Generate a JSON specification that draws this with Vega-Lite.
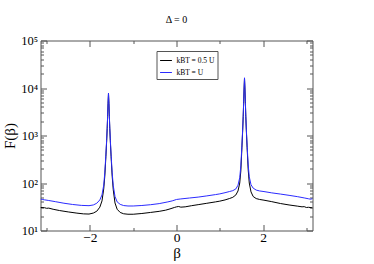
{
  "$schema": "https://vega.github.io/schema/vega-lite/v6.json",
  "autosize": {"type": "none"},
  "width": 272,
  "height": 190,
  "padding": {"left": 40.5, "top": 40.5, "right": 61.5, "bottom": 33.5},
  "background": "white",
  "config": {
    "view": {"stroke": "#555", "strokeWidth": 1},
    "font": "Liberation Serif"
  },
  "title": {"text": "Δ = 0", "fontSize": 10, "font": "Liberation Serif", "fontWeight": "normal", "offset": 10, "color": "#000"},
  "data": {"values": [
    {"b": -3.1416, "F": 30.5, "s": "kBT = 0.5 U"},
    {"b": -3.05, "F": 30.2, "s": "kBT = 0.5 U"},
    {"b": -3.0, "F": 29.3, "s": "kBT = 0.5 U"},
    {"b": -2.95, "F": 29.6, "s": "kBT = 0.5 U"},
    {"b": -2.85, "F": 28, "s": "kBT = 0.5 U"},
    {"b": -2.7, "F": 26.3, "s": "kBT = 0.5 U"},
    {"b": -2.5, "F": 24.6, "s": "kBT = 0.5 U"},
    {"b": -2.3, "F": 23.2, "s": "kBT = 0.5 U"},
    {"b": -2.15, "F": 22.4, "s": "kBT = 0.5 U"},
    {"b": -2.021, "F": 22.2, "s": "kBT = 0.5 U"},
    {"b": -1.921, "F": 23.3, "s": "kBT = 0.5 U"},
    {"b": -1.841, "F": 25.5, "s": "kBT = 0.5 U"},
    {"b": -1.771, "F": 31, "s": "kBT = 0.5 U"},
    {"b": -1.721, "F": 42, "s": "kBT = 0.5 U"},
    {"b": -1.681, "F": 75, "s": "kBT = 0.5 U"},
    {"b": -1.656, "F": 140, "s": "kBT = 0.5 U"},
    {"b": -1.631, "F": 360, "s": "kBT = 0.5 U"},
    {"b": -1.613, "F": 780, "s": "kBT = 0.5 U"},
    {"b": -1.601, "F": 1400, "s": "kBT = 0.5 U"},
    {"b": -1.591, "F": 2500, "s": "kBT = 0.5 U"},
    {"b": -1.581, "F": 4700, "s": "kBT = 0.5 U"},
    {"b": -1.571, "F": 7700, "s": "kBT = 0.5 U"},
    {"b": -1.561, "F": 4700, "s": "kBT = 0.5 U"},
    {"b": -1.551, "F": 2500, "s": "kBT = 0.5 U"},
    {"b": -1.541, "F": 1400, "s": "kBT = 0.5 U"},
    {"b": -1.529, "F": 780, "s": "kBT = 0.5 U"},
    {"b": -1.511, "F": 360, "s": "kBT = 0.5 U"},
    {"b": -1.486, "F": 140, "s": "kBT = 0.5 U"},
    {"b": -1.461, "F": 72, "s": "kBT = 0.5 U"},
    {"b": -1.421, "F": 38, "s": "kBT = 0.5 U"},
    {"b": -1.371, "F": 28, "s": "kBT = 0.5 U"},
    {"b": -1.301, "F": 24, "s": "kBT = 0.5 U"},
    {"b": -1.221, "F": 22.5, "s": "kBT = 0.5 U"},
    {"b": -1.121, "F": 22, "s": "kBT = 0.5 U"},
    {"b": -1.0, "F": 22, "s": "kBT = 0.5 U"},
    {"b": -0.8, "F": 22.8, "s": "kBT = 0.5 U"},
    {"b": -0.6, "F": 24, "s": "kBT = 0.5 U"},
    {"b": -0.4, "F": 25.3, "s": "kBT = 0.5 U"},
    {"b": -0.25, "F": 26.8, "s": "kBT = 0.5 U"},
    {"b": -0.15, "F": 28.5, "s": "kBT = 0.5 U"},
    {"b": -0.05, "F": 30.5, "s": "kBT = 0.5 U"},
    {"b": 0.0, "F": 31.5, "s": "kBT = 0.5 U"},
    {"b": 0.05, "F": 32, "s": "kBT = 0.5 U"},
    {"b": 0.1, "F": 31, "s": "kBT = 0.5 U"},
    {"b": 0.2, "F": 31.5, "s": "kBT = 0.5 U"},
    {"b": 0.35, "F": 33.3, "s": "kBT = 0.5 U"},
    {"b": 0.5, "F": 35, "s": "kBT = 0.5 U"},
    {"b": 0.7, "F": 37.4, "s": "kBT = 0.5 U"},
    {"b": 0.9, "F": 40, "s": "kBT = 0.5 U"},
    {"b": 1.0, "F": 41.5, "s": "kBT = 0.5 U"},
    {"b": 1.121, "F": 44, "s": "kBT = 0.5 U"},
    {"b": 1.221, "F": 47, "s": "kBT = 0.5 U"},
    {"b": 1.301, "F": 50, "s": "kBT = 0.5 U"},
    {"b": 1.371, "F": 56, "s": "kBT = 0.5 U"},
    {"b": 1.421, "F": 68, "s": "kBT = 0.5 U"},
    {"b": 1.461, "F": 100, "s": "kBT = 0.5 U"},
    {"b": 1.486, "F": 180, "s": "kBT = 0.5 U"},
    {"b": 1.511, "F": 550, "s": "kBT = 0.5 U"},
    {"b": 1.529, "F": 1300, "s": "kBT = 0.5 U"},
    {"b": 1.541, "F": 2500, "s": "kBT = 0.5 U"},
    {"b": 1.551, "F": 4800, "s": "kBT = 0.5 U"},
    {"b": 1.561, "F": 9500, "s": "kBT = 0.5 U"},
    {"b": 1.571, "F": 16000, "s": "kBT = 0.5 U"},
    {"b": 1.581, "F": 9500, "s": "kBT = 0.5 U"},
    {"b": 1.591, "F": 4800, "s": "kBT = 0.5 U"},
    {"b": 1.601, "F": 2500, "s": "kBT = 0.5 U"},
    {"b": 1.613, "F": 1300, "s": "kBT = 0.5 U"},
    {"b": 1.631, "F": 560, "s": "kBT = 0.5 U"},
    {"b": 1.656, "F": 190, "s": "kBT = 0.5 U"},
    {"b": 1.681, "F": 100, "s": "kBT = 0.5 U"},
    {"b": 1.721, "F": 65, "s": "kBT = 0.5 U"},
    {"b": 1.771, "F": 52, "s": "kBT = 0.5 U"},
    {"b": 1.841, "F": 47, "s": "kBT = 0.5 U"},
    {"b": 1.921, "F": 45, "s": "kBT = 0.5 U"},
    {"b": 2.021, "F": 43.5, "s": "kBT = 0.5 U"},
    {"b": 2.2, "F": 40.5, "s": "kBT = 0.5 U"},
    {"b": 2.4, "F": 37, "s": "kBT = 0.5 U"},
    {"b": 2.6, "F": 34.5, "s": "kBT = 0.5 U"},
    {"b": 2.8, "F": 32.5, "s": "kBT = 0.5 U"},
    {"b": 2.9, "F": 31.5, "s": "kBT = 0.5 U"},
    {"b": 2.95, "F": 31.8, "s": "kBT = 0.5 U"},
    {"b": 3.0, "F": 30.5, "s": "kBT = 0.5 U"},
    {"b": 3.05, "F": 30.8, "s": "kBT = 0.5 U"},
    {"b": 3.1416, "F": 30, "s": "kBT = 0.5 U"},
    {"b": -3.1416, "F": 46, "s": "kBT = U"},
    {"b": -3.1, "F": 45, "s": "kBT = U"},
    {"b": -3.05, "F": 44.2, "s": "kBT = U"},
    {"b": -2.95, "F": 42.8, "s": "kBT = U"},
    {"b": -2.8, "F": 40.5, "s": "kBT = U"},
    {"b": -2.6, "F": 37.5, "s": "kBT = U"},
    {"b": -2.4, "F": 35.3, "s": "kBT = U"},
    {"b": -2.2, "F": 33.8, "s": "kBT = U"},
    {"b": -2.021, "F": 33.3, "s": "kBT = U"},
    {"b": -1.921, "F": 34.5, "s": "kBT = U"},
    {"b": -1.841, "F": 37.5, "s": "kBT = U"},
    {"b": -1.771, "F": 44, "s": "kBT = U"},
    {"b": -1.721, "F": 56, "s": "kBT = U"},
    {"b": -1.681, "F": 90, "s": "kBT = U"},
    {"b": -1.656, "F": 165, "s": "kBT = U"},
    {"b": -1.631, "F": 400, "s": "kBT = U"},
    {"b": -1.613, "F": 830, "s": "kBT = U"},
    {"b": -1.601, "F": 1450, "s": "kBT = U"},
    {"b": -1.591, "F": 2600, "s": "kBT = U"},
    {"b": -1.581, "F": 4800, "s": "kBT = U"},
    {"b": -1.571, "F": 7800, "s": "kBT = U"},
    {"b": -1.561, "F": 4800, "s": "kBT = U"},
    {"b": -1.551, "F": 2600, "s": "kBT = U"},
    {"b": -1.541, "F": 1450, "s": "kBT = U"},
    {"b": -1.529, "F": 830, "s": "kBT = U"},
    {"b": -1.511, "F": 400, "s": "kBT = U"},
    {"b": -1.486, "F": 165, "s": "kBT = U"},
    {"b": -1.461, "F": 88, "s": "kBT = U"},
    {"b": -1.421, "F": 52, "s": "kBT = U"},
    {"b": -1.371, "F": 40, "s": "kBT = U"},
    {"b": -1.301, "F": 35.5, "s": "kBT = U"},
    {"b": -1.221, "F": 33.5, "s": "kBT = U"},
    {"b": -1.121, "F": 32.8, "s": "kBT = U"},
    {"b": -1.0, "F": 32.8, "s": "kBT = U"},
    {"b": -0.8, "F": 33.6, "s": "kBT = U"},
    {"b": -0.6, "F": 34.9, "s": "kBT = U"},
    {"b": -0.4, "F": 36.8, "s": "kBT = U"},
    {"b": -0.2, "F": 40, "s": "kBT = U"},
    {"b": -0.1, "F": 42, "s": "kBT = U"},
    {"b": 0.0, "F": 45, "s": "kBT = U"},
    {"b": 0.1, "F": 46.2, "s": "kBT = U"},
    {"b": 0.3, "F": 48.3, "s": "kBT = U"},
    {"b": 0.5, "F": 50.5, "s": "kBT = U"},
    {"b": 0.7, "F": 53.5, "s": "kBT = U"},
    {"b": 0.9, "F": 57, "s": "kBT = U"},
    {"b": 1.0, "F": 59, "s": "kBT = U"},
    {"b": 1.121, "F": 62.5, "s": "kBT = U"},
    {"b": 1.221, "F": 66, "s": "kBT = U"},
    {"b": 1.301, "F": 69, "s": "kBT = U"},
    {"b": 1.371, "F": 75, "s": "kBT = U"},
    {"b": 1.421, "F": 90, "s": "kBT = U"},
    {"b": 1.461, "F": 130, "s": "kBT = U"},
    {"b": 1.486, "F": 230, "s": "kBT = U"},
    {"b": 1.511, "F": 620, "s": "kBT = U"},
    {"b": 1.529, "F": 1380, "s": "kBT = U"},
    {"b": 1.541, "F": 2600, "s": "kBT = U"},
    {"b": 1.551, "F": 5000, "s": "kBT = U"},
    {"b": 1.561, "F": 9800, "s": "kBT = U"},
    {"b": 1.571, "F": 16400, "s": "kBT = U"},
    {"b": 1.581, "F": 9800, "s": "kBT = U"},
    {"b": 1.591, "F": 5000, "s": "kBT = U"},
    {"b": 1.601, "F": 2600, "s": "kBT = U"},
    {"b": 1.613, "F": 1380, "s": "kBT = U"},
    {"b": 1.631, "F": 620, "s": "kBT = U"},
    {"b": 1.656, "F": 240, "s": "kBT = U"},
    {"b": 1.681, "F": 135, "s": "kBT = U"},
    {"b": 1.721, "F": 92, "s": "kBT = U"},
    {"b": 1.771, "F": 78, "s": "kBT = U"},
    {"b": 1.841, "F": 71, "s": "kBT = U"},
    {"b": 1.921, "F": 68, "s": "kBT = U"},
    {"b": 2.021, "F": 66, "s": "kBT = U"},
    {"b": 2.2, "F": 62, "s": "kBT = U"},
    {"b": 2.4, "F": 58.5, "s": "kBT = U"},
    {"b": 2.6, "F": 55, "s": "kBT = U"},
    {"b": 2.8, "F": 51.5, "s": "kBT = U"},
    {"b": 2.95, "F": 48.5, "s": "kBT = U"},
    {"b": 3.05, "F": 46.5, "s": "kBT = U"},
    {"b": 3.1, "F": 45.5, "s": "kBT = U"},
    {"b": 3.1416, "F": 47, "s": "kBT = U"}
  ]},
  "resolve": {"axis": {"x": "independent", "y": "independent"}},
  "layer": [
    {
      "mark": {"type": "line", "strokeWidth": 1, "clip": true},
      "encoding": {
        "x": {"field": "b", "type": "quantitative",
          "scale": {"domain": [-3.14159, 3.14159], "nice": false, "zero": false},
          "axis": {"orient": "bottom", "values": [-2, 0, 2], "format": "d", "domain": false, "grid": false,
            "tickSize": -6, "tickColor": "#555", "labelPadding": 6, "labelFontSize": 13.5, "labelFont": "Liberation Serif", "labelColor": "#000",
            "title": "β", "titleFont": "Liberation Serif", "titleFontSize": 15, "titleFontWeight": "normal", "titleColor": "#000", "titlePadding": 1}},
        "y": {"field": "F", "type": "quantitative",
          "scale": {"type": "log", "domain": [10, 100000], "nice": false},
          "axis": {"orient": "left", "values": [10, 100, 1000, 10000, 100000], "domain": false, "grid": false,
            "labelExpr": "'10' + ['⁰','¹','²','³','⁴','⁵'][round(log(datum.value)/LN10)]",
            "tickSize": -6, "tickColor": "#555", "labelPadding": 9, "labelFontSize": 12.5, "labelFont": "Liberation Serif", "labelColor": "#000",
            "title": "F(β)", "titleFont": "Liberation Serif", "titleFontSize": 15, "titleFontWeight": "normal", "titleColor": "#000", "titlePadding": 3}},
        "color": {"field": "s", "type": "nominal",
          "scale": {"domain": ["kBT = 0.5 U", "kBT = U"], "range": ["#000000", "#2b2bff"]},
          "legend": {"orient": "none", "legendX": 116, "legendY": 10.5, "title": null,
            "symbolType": "stroke", "symbolSize": 140, "symbolStrokeWidth": 1,
            "labelFont": "Liberation Serif", "labelFontSize": 7.5, "labelColor": "#000",
            "strokeColor": "#555", "fillColor": "white", "padding": 3, "rowPadding": 2, "labelOffset": 4}}
      }
    },
    {
      "mark": {"type": "point", "opacity": 0},
      "encoding": {
        "x": {"field": "b", "type": "quantitative",
          "axis": {"orient": "bottom", "values": [-3, -1, 1, 3], "labels": false, "domain": false, "grid": false, "tickSize": -3, "tickColor": "#555", "title": null}},
        "y": {"field": "F", "type": "quantitative",
          "axis": {"orient": "left", "values": [20,30,40,50,60,70,80,90,200,300,400,500,600,700,800,900,2000,3000,4000,5000,6000,7000,8000,9000,20000,30000,40000,50000,60000,70000,80000,90000], "labels": false, "domain": false, "grid": false, "tickSize": -3, "tickColor": "#555", "title": null}}
      }
    },
    {
      "mark": {"type": "point", "opacity": 0},
      "encoding": {
        "x": {"field": "b", "type": "quantitative",
          "axis": {"orient": "top", "values": [-2, 0, 2], "labels": false, "domain": false, "grid": false, "tickSize": -6, "tickColor": "#555", "title": null}},
        "y": {"field": "F", "type": "quantitative",
          "axis": {"orient": "right", "values": [10, 100, 1000, 10000, 100000], "labels": false, "domain": false, "grid": false, "tickSize": -6, "tickColor": "#555", "title": null}}
      }
    },
    {
      "mark": {"type": "point", "opacity": 0},
      "encoding": {
        "x": {"field": "b", "type": "quantitative",
          "axis": {"orient": "top", "values": [-3, -1, 1, 3], "labels": false, "domain": false, "grid": false, "tickSize": -3, "tickColor": "#555", "title": null}},
        "y": {"field": "F", "type": "quantitative",
          "axis": {"orient": "right", "values": [20,30,40,50,60,70,80,90,200,300,400,500,600,700,800,900,2000,3000,4000,5000,6000,7000,8000,9000,20000,30000,40000,50000,60000,70000,80000,90000], "labels": false, "domain": false, "grid": false, "tickSize": -3, "tickColor": "#555", "title": null}}
      }
    }
  ]
}
